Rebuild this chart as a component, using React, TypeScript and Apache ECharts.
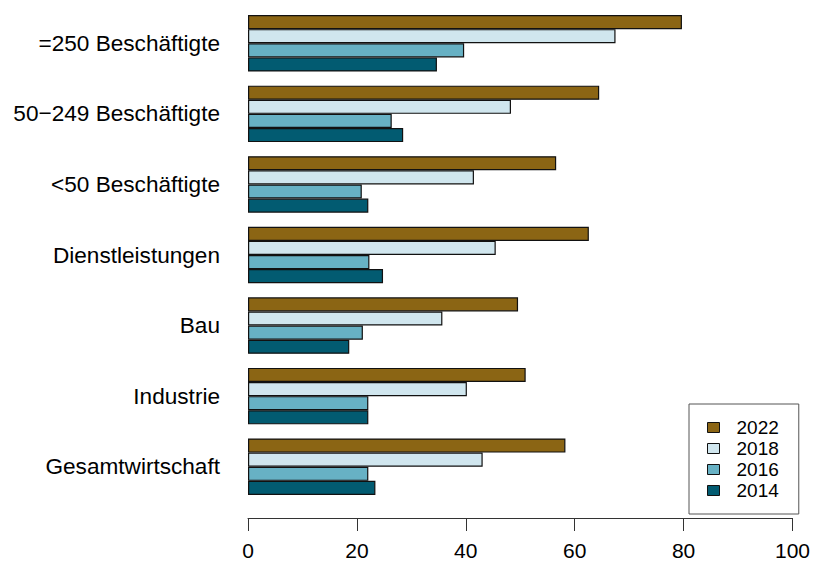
import React, { useEffect, useRef } from "react";
import * as echarts from "echarts";

const categories = [
  "Gesamtwirtschaft",
  "Industrie",
  "Bau",
  "Dienstleistungen",
  "<50 Beschäftigte",
  "50−249 Beschäftigte",
  "=250 Beschäftigte",
];

const years = ["2022", "2018", "2016", "2014"];

const values2022 = [58.3, 51.0, 49.6, 62.6, 56.6, 64.5, 79.7];
const values2018 = [43.1, 40.2, 35.7, 45.5, 41.5, 48.3, 67.5];
const values2016 = [22.1, 22.1, 21.1, 22.3, 20.9, 26.4, 39.7];
const values2014 = [23.4, 22.1, 18.6, 24.8, 22.1, 28.5, 34.7];

const xTicks = [0, 20, 40, 60, 80, 100];

const colors: Record<string, string> = {
  "2022": "#8B6514",
  "2018": "#D0E6EE",
  "2016": "#67B1C4",
  "2014": "#025B71",
};

const seriesValues: Record<string, number[]> = {
  "2022": values2022,
  "2018": values2018,
  "2016": values2016,
  "2014": values2014,
};

export default function App() {
  const ref = useRef<HTMLDivElement>(null);
  useEffect(() => {
    if (!ref.current) return;
    const chart = echarts.init(ref.current, null, { renderer: "svg" });
    const font = "'Liberation Sans', Arial, Helvetica, sans-serif";
    chart.setOption({
      animation: false,
      backgroundColor: "#ffffff",
      textStyle: { fontFamily: font },
      grid: { left: 248, right: 17, top: 8, bottom: 66, containLabel: false },
      legend: {
        data: years,
        orient: "vertical",
        left: 689,
        top: 404,
        padding: [14, 20, 14, 18],
        borderColor: "#555",
        borderWidth: 1,
        itemWidth: 12,
        itemHeight: 10,
        itemGap: 2,
        itemStyle: { borderColor: "#111", borderWidth: 1 },
        textStyle: { fontSize: 19, color: "#000", fontFamily: font, lineHeight: 19, padding: [0, 0, 0, 12] },
        icon: "rect",
      },
      xAxis: {
        type: "value",
        min: xTicks[0],
        max: xTicks[xTicks.length - 1],
        interval: 20,
        offset: 16,
        splitLine: { show: false },
        axisLine: { show: true, lineStyle: { color: "#333", width: 1 } },
        axisTick: { show: true, length: 13, lineStyle: { color: "#333" } },
        axisLabel: { fontSize: 21, color: "#000", margin: 22, fontFamily: font },
      },
      yAxis: {
        type: "category",
        data: categories,
        axisLine: { show: false },
        axisTick: { show: false },
        axisLabel: { fontSize: 22.6, color: "#000", margin: 28, fontFamily: font },
      },
      series: years.map((y) => ({
        name: y,
        type: "bar",
        data: seriesValues[y],
        barGap: "0%",
        barCategoryGap: "20%",
        itemStyle: { color: colors[y], borderColor: "#111", borderWidth: 1.2 },
      })),
    });
    return () => chart.dispose();
  }, []);
  return (
    <div
      ref={ref}
      style={{ position: "fixed", left: 0, top: 0, width: 813, height: 568, background: "#fff" }}
    />
  );
}
